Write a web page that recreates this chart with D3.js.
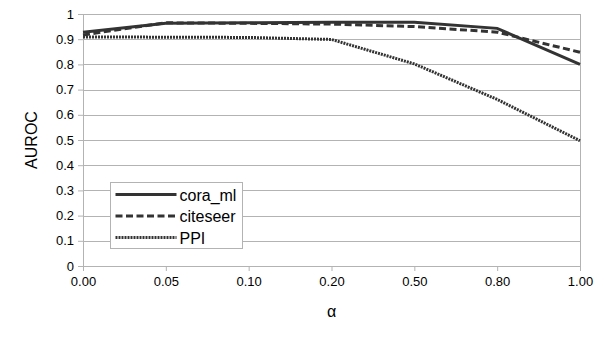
<!DOCTYPE html>
<html>
<head>
<meta charset="utf-8">
<script src="https://cdn.jsdelivr.net/npm/d3@7"></script>
<style>
  body { margin: 0; background: #fff; }
  text { font-family: "Liberation Sans", Arial, sans-serif; fill: #000; }
</style>
</head>
<body>
<svg id="chart" width="605" height="340"></svg>
<script>
// x categories (alpha) and AUROC per dataset
const alphas = ["0.00", "0.05", "0.10", "0.20", "0.50", "0.80", "1.00"];
const coraMl = [0.928, 0.963, 0.965, 0.967, 0.967, 0.943, 0.800];
const citeseer = [0.917, 0.965, 0.963, 0.960, 0.950, 0.928, 0.848];
const ppi = [0.909, 0.908, 0.907, 0.899, 0.802, 0.661, 0.497];
const yTicks = [0, 0.1, 0.2, 0.3, 0.4, 0.5, 0.6, 0.7, 0.8, 0.9, 1];

const series = [
  { name: "cora_ml", values: coraMl, dash: null },
  { name: "citeseer", values: citeseer, dash: "7,3.5" },
  { name: "PPI", values: ppi, dash: "2,1" }
];

const margin = { top: 14, right: 25, bottom: 74, left: 83 };
const width = 605 - margin.left - margin.right;
const height = 340 - margin.top - margin.bottom;

const svg = d3.select("#chart");
const g = svg.append("g")
  .attr("transform", "translate(" + margin.left + "," + margin.top + ")");

const x = d3.scalePoint().domain(alphas).range([0, width]);
const y = d3.scaleLinear().domain([0, 1]).range([height, 0]);

// horizontal grid
g.selectAll(".grid")
  .data(yTicks)
  .enter()
  .append("line")
    .attr("x1", 0)
    .attr("x2", width)
    .attr("y1", d => Math.round(y(d)) + 0.5)
    .attr("y2", d => Math.round(y(d)) + 0.5)
    .attr("stroke", "#b3b3b3")
    .attr("stroke-width", 1);

// right border
g.append("line")
  .attr("x1", width + 0.5).attr("x2", width + 0.5)
  .attr("y1", 0).attr("y2", height)
  .attr("stroke", "#b3b3b3");

// y axis
const yAxis = g.append("g")
  .call(d3.axisLeft(y).tickValues(yTicks).tickSize(5).tickPadding(4)
    .tickFormat(d => d === 0 ? "0" : d === 1 ? "1" : d3.format(".1f")(d)));
yAxis.select(".domain").attr("stroke", "#b3b3b3");
yAxis.selectAll(".tick line").attr("stroke", "#b3b3b3");
yAxis.selectAll("text").attr("font-size", 13).attr("fill", "#000")
  .attr("font-family", "Liberation Sans, Arial, sans-serif");

// x axis
const xAxis = g.append("g")
  .attr("transform", "translate(0," + height + ")")
  .call(d3.axisBottom(x).tickSize(5).tickPadding(6));
xAxis.select(".domain").attr("stroke", "#b3b3b3");
xAxis.selectAll(".tick line").attr("stroke", "#b3b3b3");
xAxis.selectAll("text").attr("font-size", 13).attr("fill", "#000")
  .attr("font-family", "Liberation Sans, Arial, sans-serif");

// lines
const line = d3.line()
  .x((d, i) => x(alphas[i]))
  .y(d => y(d));

series.forEach(s => {
  g.append("path")
    .datum(s.values)
    .attr("fill", "none")
    .attr("stroke", "#333333")
    .attr("stroke-width", 3)
    .attr("stroke-dasharray", s.dash)
    .attr("d", line);
});

// axis titles
svg.append("text")
  .attr("transform", "translate(37," + (margin.top + height / 2) + ") rotate(-90)")
  .attr("text-anchor", "middle")
  .attr("font-size", 16)
  .text("AUROC");

svg.append("text")
  .attr("x", margin.left + width / 2)
  .attr("y", 317)
  .attr("text-anchor", "middle")
  .attr("font-size", 16)
  .text("α");

// legend
const legend = svg.append("g").attr("transform", "translate(110.5,182.5)");
legend.append("rect")
  .attr("width", 132)
  .attr("height", 66)
  .attr("fill", "#fff")
  .attr("stroke", "#b3b3b3");

series.forEach((s, i) => {
  const ly = 12 + i * 21.5;
  legend.append("line")
    .attr("x1", 5).attr("x2", 66)
    .attr("y1", ly).attr("y2", ly)
    .attr("stroke", "#333333")
    .attr("stroke-width", 3)
    .attr("stroke-dasharray", s.dash);
  legend.append("text")
    .attr("x", 69)
    .attr("y", ly + 6)
    .attr("font-size", 16)
    .text(s.name);
});
</script>
</body>
</html>
